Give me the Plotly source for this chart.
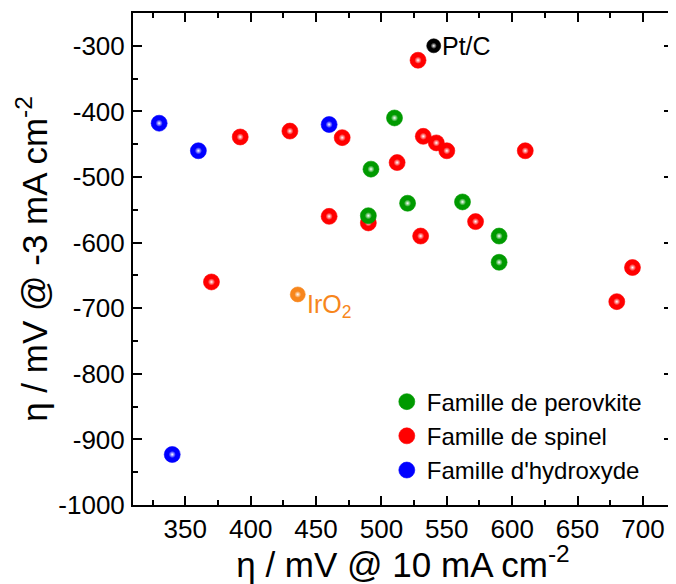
import plotly.graph_objects as go

# ---- data ----
perov_x = [490, 492, 510, 520, 562, 590, 590]
perov_y = [-559, -488, -410, -540, -538, -590, -630]

spinel_x = [370, 392, 430, 460, 470, 490, 512, 528, 530, 532, 542, 550, 572, 610, 680, 692]
spinel_y = [-660, -439, -430, -560, -440, -570, -478, -322, -590, -438, -448, -460, -568, -460, -690, -638]

hydrox_x = [330, 340, 360, 460]
hydrox_y = [-418, -923, -460, -420]

ptc_x = [540]
ptc_y = [-300]
iro2_x = [436]
iro2_y = [-679]

names = ["Famille de perovkite", "Famille de spinel", "Famille d'hydroxyde"]
x_ticks = [350, 400, 450, 500, 550, 600, 650, 700]
y_ticks = [-1000, -900, -800, -700, -600, -500, -400, -300]

GREEN = "#009a00"
RED = "#ff0000"
BLUE = "#0000ff"
ORANGE = "#f7861c"
BLACK = "#000000"
FONT = "Liberation Sans, Arial, sans-serif"

fig = go.Figure()

def ball(x, y, color, name, size, rank, legend=True):
    fig.add_trace(go.Scatter(
        x=x, y=y, mode="markers", name=name, showlegend=legend, legendrank=rank,
        marker=dict(size=size, color=color, line=dict(width=0.6, color=color)),
        hoverinfo="x+y"))
    fig.add_trace(go.Scatter(
        x=x, y=y, mode="markers", showlegend=False, hoverinfo="skip",
        marker=dict(size=size * 0.45, color=color,
                    gradient=dict(type="radial", color="#ffffff"),
                    line=dict(width=0))))

# draw order: red under green
ball(spinel_x, spinel_y, RED, names[1], 16, 2)
ball(perov_x, perov_y, GREEN, names[0], 16, 1)
ball(hydrox_x, hydrox_y, BLUE, names[2], 16, 3)
ball(ptc_x, ptc_y, BLACK, "Pt/C", 14, 10, legend=False)
ball(iro2_x, iro2_y, ORANGE, "IrO2", 15, 11, legend=False)

fig.add_annotation(x=ptc_x[0], y=ptc_y[0], text="Pt/C", showarrow=False,
                   xanchor="left", yanchor="middle", xshift=6,
                   font=dict(family=FONT, size=25, color=BLACK))
fig.add_annotation(x=iro2_x[0], y=iro2_y[0], text="IrO<sub>2</sub>", showarrow=False,
                   xanchor="left", yanchor="top", xshift=7, yshift=6,
                   font=dict(family=FONT, size=25, color=ORANGE))

axis_common = dict(
    showline=True, linecolor="black", linewidth=2, mirror="ticks",
    ticks="inside", ticklen=9, tickwidth=2, tickcolor="black",
    showgrid=False, zeroline=False,
    tickfont=dict(family=FONT, size=26, color="black"),
)

fig.update_xaxes(
    range=[310, 723], tickvals=x_ticks, ticktext=[str(v) for v in x_ticks],
    minor=dict(ticks="inside", ticklen=5, tickwidth=2, tickcolor="black", dtick=25, tick0=0),
    title=dict(text="\u03b7 / mV @ 10 mA cm<sup>-2</sup>",
               font=dict(family=FONT, size=35, color="black"), standoff=5),
    **axis_common)
fig.update_yaxes(
    range=[-1000, -250], tickvals=y_ticks, ticktext=[str(v) for v in y_ticks],
    ticklabelstandoff=1,
    minor=dict(ticks="inside", ticklen=5, tickwidth=2, tickcolor="black", dtick=50, tick0=0),
    title=dict(text="\u03b7 / mV @ -3 mA cm<sup>-2</sup>",
               font=dict(family=FONT, size=35, color="black"), standoff=0),
    **axis_common)

# the page body has an 8px margin: figure is sized/shifted to compensate
fig.update_layout(
    width=668, height=576,
    margin=dict(l=125, r=3, t=5, b=79, autoexpand=False),
    paper_bgcolor="white", plot_bgcolor="white",
    font=dict(family=FONT, color="black"),
    legend=dict(x=0.47, y=0.255, xanchor="left", yanchor="top",
                bgcolor="rgba(0,0,0,0)", borderwidth=0,
                font=dict(family=FONT, size=24, color="black"),
                itemwidth=30),
)

fig.write_html("out.html")
